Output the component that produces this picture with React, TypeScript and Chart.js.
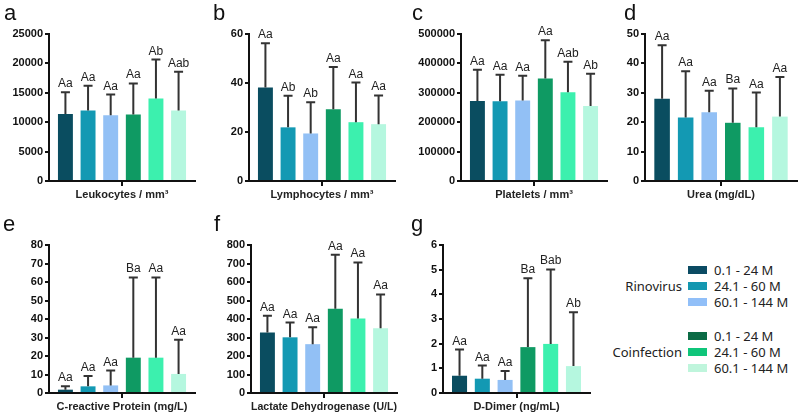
import React, { useEffect, useRef } from 'react';
import { Chart, registerables } from 'chart.js';
Chart.register(...registerables);

const FONT = '"Liberation Sans", Arial, Helvetica, sans-serif';
const LEGEND_FONT = '"Noto Sans", "Open Sans", sans-serif';

// ---- data ----
const groups = ['0.1 - 24 M', '24.1 - 60 M', '60.1 - 144 M', '0.1 - 24 M', '24.1 - 60 M', '60.1 - 144 M'];
const barColors = ['#0a4d60', '#1399b3', '#92c0f5', '#0f9a63', '#3cf0ae', '#b5f7df'];
const legendColors = ['#0b4b63', '#1397b0', '#91bff8', '#0b6b45', '#0fc57a', '#bff5dc'];
const infectionLabels = ['Rinovirus', 'Coinfection'];

const leukocytesMean = [11400, 12000, 11200, 11300, 14050, 12000];
const leukocytesUpper = [15100, 16200, 14700, 16600, 20650, 18600];
const leukocytesLetters = ['Aa', 'Aa', 'Aa', 'Aa', 'Ab', 'Aab'];

const lymphocytesMean = [38.2, 21.9, 19.4, 29.3, 24.0, 23.2];
const lymphocytesUpper = [56.2, 34.8, 32.1, 46.5, 40.2, 34.9];
const lymphocytesLetters = ['Aa', 'Ab', 'Ab', 'Aa', 'Aa', 'Aa'];

const plateletsMean = [272000, 271000, 274000, 349000, 302000, 255000];
const plateletsUpper = [378000, 361000, 358000, 479000, 406000, 365000];
const plateletsLetters = ['Aa', 'Aa', 'Aa', 'Aa', 'Aab', 'Ab'];

const ureaMean = [28.0, 21.6, 23.4, 19.8, 18.3, 21.9];
const ureaUpper = [46.2, 37.3, 30.7, 31.5, 30.1, 35.4];
const ureaLetters = ['Aa', 'Aa', 'Aa', 'Ba', 'Aa', 'Aa'];

const crpMean = [1.8, 3.6, 4.1, 19.1, 19.1, 10.3];
const crpUpper = [3.6, 9.2, 12.1, 62.5, 62.5, 28.8];
const crpLetters = ['Aa', 'Aa', 'Aa', 'Ba', 'Aa', 'Aa'];

const ldhMean = [327, 301, 264, 455, 403, 350];
const ldhUpper = [417, 381, 356, 747, 706, 533];
const ldhLetters = ['Aa', 'Aa', 'Aa', 'Aa', 'Aa', 'Aa'];

const dDimerMean = [0.70, 0.58, 0.53, 1.86, 1.99, 1.09];
const dDimerUpper = [1.76, 1.11, 0.89, 4.65, 5.01, 3.27];
const dDimerLetters = ['Aa', 'Aa', 'Aa', 'Ba', 'Bab', 'Ab'];

const panelTitles = ['Leukocytes / mm³', 'Lymphocytes / mm³', 'Platelets / mm³', 'Urea (mg/dL)', 'C-reactive Protein (mg/L)', 'Lactate Dehydrogenase (U/L)', 'D-Dimer (ng/mL)'];
const panelTags = ['a', 'b', 'c', 'd', 'e', 'f', 'g'];
const axisMax = [25000, 60, 500000, 50, 80, 800, 6];
const axisStep = [5000, 20, 100000, 10, 10, 100, 1];

const panelMeans = [leukocytesMean, lymphocytesMean, plateletsMean, ureaMean, crpMean, ldhMean, dDimerMean];
const panelUppers = [leukocytesUpper, lymphocytesUpper, plateletsUpper, ureaUpper, crpUpper, ldhUpper, dDimerUpper];
const panelLetters = [leukocytesLetters, lymphocytesLetters, plateletsLetters, ureaLetters, crpLetters, ldhLetters, dDimerLetters];

// ---- layout (plot-area geometry in page pixels) ----
const layoutBoxes = [
  { L: 49, R: 195, T: 34, B: 181, tagX: 4, tagY: 2 },
  { L: 249, R: 395, T: 34, B: 181, tagX: 213, tagY: 2 },
  { L: 461, R: 607, T: 34, B: 181, tagX: 412, tagY: 2 },
  { L: 645, R: 797, T: 34, B: 181, tagX: 624, tagY: 2 },
  { L: 49, R: 195, T: 245, B: 393, tagX: 3, tagY: 213 },
  { L: 251, R: 397, T: 245, B: 393, tagX: 214, tagY: 213 },
  { L: 443, R: 590, T: 245, B: 393, tagX: 411, tagY: 213 },
];

const Y_W = 48;
const X_H = 21;
const PAD_TOP = 24;
const PAD_RIGHT = 2;

const errorBarPlugin = {
  id: 'errorBars',
  afterDatasetsDraw(chart: any, _args: any, opts: any) {
    const { ctx } = chart;
    const yScale = chart.scales.y;
    const upper = opts.upper as number[];
    const letters = opts.letters as string[];
    ctx.save();
    chart.data.datasets.forEach((_ds: any, i: number) => {
      const bar = chart.getDatasetMeta(i).data[0];
      const x = bar.x;
      const yb = bar.y;
      const yt = yScale.getPixelForValue(upper[i]);
      ctx.strokeStyle = '#333';
      ctx.lineWidth = 2;
      ctx.beginPath();
      ctx.moveTo(x, yb);
      ctx.lineTo(x, yt);
      ctx.moveTo(x - 4.5, yt);
      ctx.lineTo(x + 4.5, yt);
      ctx.stroke();
      ctx.fillStyle = '#222';
      ctx.font = `12px ${FONT}`;
      ctx.textAlign = 'center';
      ctx.textBaseline = 'alphabetic';
      ctx.fillText(letters[i], x, yt - 5);
    });
    ctx.restore();
  },
};

function Panel({ idx }: { idx: number }) {
  const ref = useRef<HTMLCanvasElement | null>(null);
  const box = layoutBoxes[idx];
  const width = Y_W + (box.R - box.L) + PAD_RIGHT;
  const height = PAD_TOP + (box.B - box.T) + X_H;
  useEffect(() => {
    const chart = new Chart(ref.current as HTMLCanvasElement, {
      type: 'bar',
      data: {
        labels: [panelTitles[idx]],
        datasets: groups.map((g, i) => ({
          label: g,
          data: [panelMeans[idx][i]],
          backgroundColor: barColors[i],
          borderWidth: 0,
          categoryPercentage: 0.93,
          barPercentage: 0.66,
        })),
      },
      options: {
        responsive: false,
        animation: false,
        devicePixelRatio: 1,
        layout: { padding: { top: PAD_TOP, left: 0, right: PAD_RIGHT, bottom: 0 } },
        plugins: {
          legend: { display: false },
          tooltip: { enabled: false },
          title: { display: false },
          errorBars: { upper: panelUppers[idx], letters: panelLetters[idx] },
        } as any,
        scales: {
          x: {
            offset: true,
            grid: { display: true, drawOnChartArea: false, drawTicks: true, tickLength: 5, offset: false, color: '#111', lineWidth: 2 },
            border: { display: true, color: '#111', width: 2 },
            ticks: { display: false },
            title: {
              display: true,
              text: panelTitles[idx],
              font: { family: FONT, size: 11, weight: 'bold' },
              color: '#222',
              padding: { top: 3, bottom: 0 },
            },
            afterFit: (s: any) => { s.height = X_H; },
          },
          y: {
            min: 0,
            max: axisMax[idx],
            ticks: {
              stepSize: axisStep[idx],
              callback: (v: any) => String(v),
              font: { family: FONT, size: 11, weight: 'bold' },
              color: '#111',
              padding: 2,
            },
            grid: { drawOnChartArea: false, drawTicks: true, tickLength: 4, color: '#111', lineWidth: 2 },
            border: { display: true, color: '#111', width: 2 },
            afterFit: (s: any) => { s.width = Y_W; },
          },
        },
      } as any,
      plugins: [errorBarPlugin],
    });
    return () => chart.destroy();
  }, [idx]);
  return (
    <canvas
      ref={ref}
      width={width}
      height={height}
      style={{ position: 'absolute', left: box.L - Y_W, top: box.T - PAD_TOP, width, height }}
    />
  );
}

function Legend() {
  const rowTops = [266, 282, 298, 332, 348, 364];
  return (
    <>
      {infectionLabels.map((lab, k) => (
        <div
          key={lab}
          style={{
            position: 'absolute',
            right: 800 - 682,
            top: rowTops[k * 3 + 1] - 6,
            font: `13px ${LEGEND_FONT}`,
            lineHeight: '20px',
            color: '#222',
            whiteSpace: 'nowrap',
          }}
        >
          {lab}
        </div>
      ))}
      {groups.map((g, i) => (
        <React.Fragment key={i}>
          <div
            style={{
              position: 'absolute',
              left: 688,
              top: rowTops[i],
              width: 19,
              height: 8,
              background: legendColors[i],
            }}
          />
          <div
            style={{
              position: 'absolute',
              left: 714,
              top: rowTops[i] - 6,
              font: `13px ${LEGEND_FONT}`,
              lineHeight: '20px',
              color: '#222',
              whiteSpace: 'nowrap',
            }}
          >
            {g}
          </div>
        </React.Fragment>
      ))}
    </>
  );
}

export default function App() {
  return (
    <div style={{ position: 'fixed', left: 0, top: 0, width: 800, height: 418, background: '#fff', overflow: 'hidden' }}>
      {layoutBoxes.map((_b, i) => (
        <Panel key={i} idx={i} />
      ))}
      {layoutBoxes.map((b, i) => (
        <div
          key={'t' + i}
          style={{
            position: 'absolute',
            left: b.tagX,
            top: b.tagY,
            font: `22px ${FONT}`,
            lineHeight: '22px',
            color: '#111',
          }}
        >
          {panelTags[i]}
        </div>
      ))}
      <Legend />
    </div>
  );
}
